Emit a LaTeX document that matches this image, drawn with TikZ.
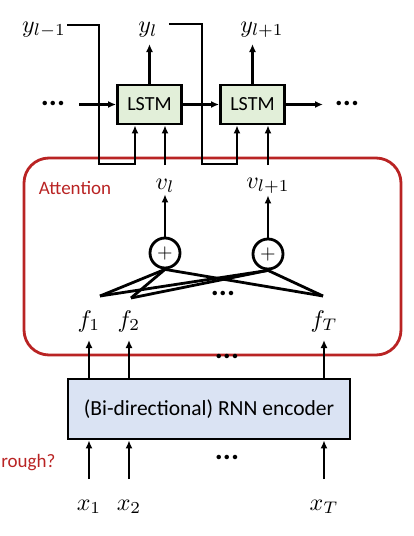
\documentclass[tikz,border=0pt]{standalone}
\usepackage{fontspec}
\setmainfont{Carlito}
\usepackage{graphicx}
\usepackage{tikz}
\usetikzlibrary{arrows.meta, positioning}
\definecolor{attred}{RGB}{185,35,35}
\definecolor{lstmgreen}{RGB}{226,239,217}
\definecolor{encblue}{RGB}{218,227,243}
\newcommand{\bigsym}[1]{\scalebox{2.4}{$#1$}}

\begin{document}
\begin{tikzpicture}[x=1pt, y=-1pt, line width=2.8pt]
	% Styles
	\tikzstyle{cell} = [draw, fill=lstmgreen, rectangle, minimum height=39pt, minimum width=64pt, inner sep=0pt, font=\fontsize{20}{22}\selectfont]
	\tikzstyle{enc} = [draw, fill=encblue, rectangle, minimum height=60pt, minimum width=282pt, inner sep=0pt, font=\fontsize{21.5}{24}\selectfont]
	\tikzstyle{sym} = [inner sep=0pt]
	\tikzstyle{dots} = [inner sep=0pt, font=\fontsize{30}{32}\selectfont\bfseries]
	\tikzstyle{plus} = [draw, circle, fill=white, minimum size=30pt, inner sep=0pt]
	\tikzstyle{redtext} = [inner sep=0pt, text=attred, font=\fontsize{19}{22}\selectfont]
	\tikzstyle{arrow} = [-{Latex[length=8pt,width=7pt]}]

	\useasboundingbox (0,0) rectangle (414,536);

	% Attention block
	\node (attn) [draw=attred, rounded corners=25pt, minimum width=377pt, minimum height=197pt] at (212.5,256.5) {};
	\node (attlabel) [redtext] at (75,188) {Attention};

	% Nodes
	\node (lstmA) [cell] at (149.5,104.5) {LSTM};
	\node (lstmB) [cell] at (252.5,104.5) {LSTM};
	\node (dotsL) [dots] at (53,103) {...};
	\node (dotsR) [dots] at (347,103) {...};
	\coordinate (inL) at (79,104.5);
	\coordinate (outR) at (323,104.5);

	\node (yA) [sym] at (44,30) {\bigsym{y_{l-1}}};
	\node (yB) [sym] at (148,30) {\bigsym{y_l}};
	\node (yC) [sym] at (262,30) {\bigsym{y_{l+1}}};

	\node (vA) [sym] at (165,186) {\bigsym{v_l}};
	\node (vB) [sym] at (268,186) {\bigsym{v_{l+1}}};
	\node (plusA) [plus] at (165,253) {\scalebox{2}{$+$}};
	\node (plusB) [plus] at (268,254) {\scalebox{2}{$+$}};

	\coordinate (p1) at (100,296);
	\coordinate (p2) at (131,298);
	\coordinate (pT) at (323,296);
	\node (dotsF) [dots] at (223,293) {...};

	\node (f1) [sym] at (89,321) {\bigsym{f_1}};
	\node (f2) [sym] at (129,321) {\bigsym{f_2}};
	\node (fT) [sym] at (324,321) {\bigsym{f_T}};
	\node (dotsA) [dots] at (227,356) {...};

	\node (enc) [enc] at (209,409) {(Bi-directional) RNN encoder};
	\node (dotsX) [dots] at (227,457) {...};
	\node (through) [redtext, anchor=west] at (0,463) {rough?};

	\node (x1) [sym] at (89,507) {\bigsym{x_1}};
	\node (x2) [sym] at (129,507) {\bigsym{x_2}};
	\node (xT) [sym] at (324,507) {\bigsym{x_T}};

	% Connections
	\draw [arrow] (inL) -- (lstmA);
	\draw [arrow] (lstmA) -- (lstmB);
	\draw [arrow] (lstmB) -- (outR);
	\draw [arrow] (lstmA.north) -- (lstmA.north |- 0,44);
	\draw [arrow] (lstmB.north) -- (lstmB.north |- 0,44);

	\draw [arrow] (yA.east |- 0,25) -| (99,164) -| ([xshift=-14.5pt]lstmA.south);
	\draw [arrow] ([xshift=10pt]yB.east |- 0,24) -| (202,164) -| ([xshift=-15.5pt]lstmB.south);
	\draw [arrow] (vA.north |- 0,165) -- (vA.north |- lstmA.south);
	\draw [arrow] (vB.north |- 0,165) -- (vB.north |- lstmB.south);

	\draw [arrow] (plusA) -- (vA);
	\draw [arrow] (plusB) -- (vB);
	\foreach \p in {p1, p2, pT} {
		\draw (plusA.south) -- (\p);
		\draw (plusB.south) -- (\p);
	}

	\foreach \n in {1, 2, T} {
		\draw [arrow] (f\n |- enc.north) -- (f\n |- 0,340);
		\draw [arrow] (x\n |- 0,479) -- (x\n |- enc.south);
	}
\end{tikzpicture}
\end{document}
